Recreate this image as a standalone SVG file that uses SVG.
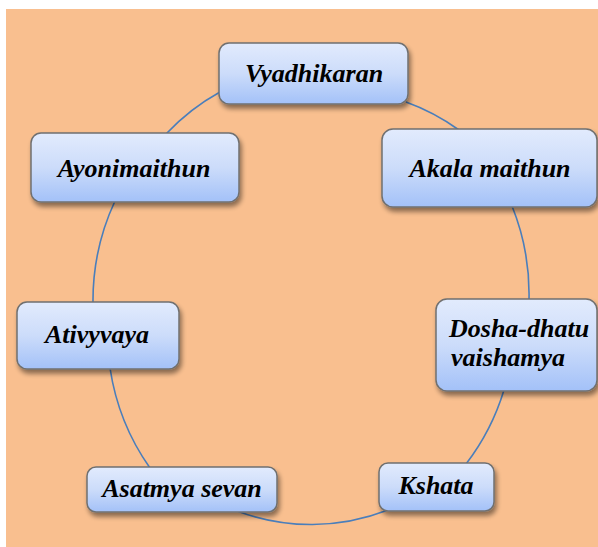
<svg xmlns="http://www.w3.org/2000/svg" width="598" height="547" viewBox="0 0 598 547">
<defs>
<linearGradient id="g" x1="0" y1="0" x2="0" y2="1">
<stop offset="0" stop-color="#E2EBFD"/>
<stop offset="0.5" stop-color="#CCDCFA"/>
<stop offset="1" stop-color="#A3C1F8"/>
</linearGradient>
<filter id="sh" x="-10%" y="-10%" width="130%" height="140%">
<feGaussianBlur in="SourceAlpha" stdDeviation="2.5"/>
<feOffset dx="2" dy="4" result="b"/>
<feComponentTransfer><feFuncA type="linear" slope="0.45"/></feComponentTransfer>
<feMerge><feMergeNode/><feMergeNode in="SourceGraphic"/></feMerge>
</filter>
</defs>
<style>
.box{fill:url(#g);stroke:#707070;stroke-width:1.5;filter:url(#sh)}
.t{font-family:"Liberation Serif","Times New Roman",serif;font-weight:bold;font-style:italic;font-size:26px;fill:#000}
.c{fill:none;stroke:#4A7EBB;stroke-width:1.6}
</style>
<rect x="0" y="0" width="598" height="547" fill="#FFFFFF"/>
<rect x="6" y="9" width="592" height="538" fill="#F9BF8F"/>
<g id="connectors">
<path class="c" d="M406,102 A219,228 0 0 1 459,130"/>
<path class="c" d="M512,206 A219,228 0 0 1 529,300"/>
<path class="c" d="M504,390 A219,228 0 0 1 466,464"/>
<path class="c" d="M388,510 A219,228 0 0 1 237,511"/>
<path class="c" d="M150,468 A219,228 0 0 1 110,368"/>
<path class="c" d="M93,303 A219,228 0 0 1 115,201"/>
<path class="c" d="M166,134 A219,228 0 0 1 220,92"/>
</g>
<g id="n-vyadhikaran">
<rect class="box" x="219" y="43" width="189" height="61" rx="10"/>
<text class="t" x="314" y="82" text-anchor="middle">Vyadhikaran</text>
</g>
<g id="n-akala">
<rect class="box" x="382" y="129" width="215" height="78" rx="11"/>
<text class="t" x="490" y="177" text-anchor="middle">Akala maithun</text>
</g>
<g id="n-dosha">
<rect class="box" x="436" y="299" width="161" height="92" rx="11"/>
<text class="t" x="449" y="337">Dosha-dhatu</text>
<text class="t" x="451" y="366">vaishamya</text>
</g>
<g id="n-kshata">
<rect class="box" x="379" y="463" width="115" height="48" rx="9"/>
<text class="t" x="436" y="494" text-anchor="middle">Kshata</text>
</g>
<g id="n-asatmya">
<rect class="box" x="87" y="467" width="190" height="45" rx="9"/>
<text class="t" x="182" y="497" text-anchor="middle">Asatmya sevan</text>
</g>
<g id="n-ativyvaya">
<rect class="box" x="17" y="302" width="162" height="67" rx="10"/>
<text class="t" x="97" y="343" text-anchor="middle">Ativyvaya</text>
</g>
<g id="n-ayonimaithun">
<rect class="box" x="31" y="133" width="208" height="69" rx="10"/>
<text class="t" x="134" y="177" text-anchor="middle">Ayonimaithun</text>
</g>
</svg>
